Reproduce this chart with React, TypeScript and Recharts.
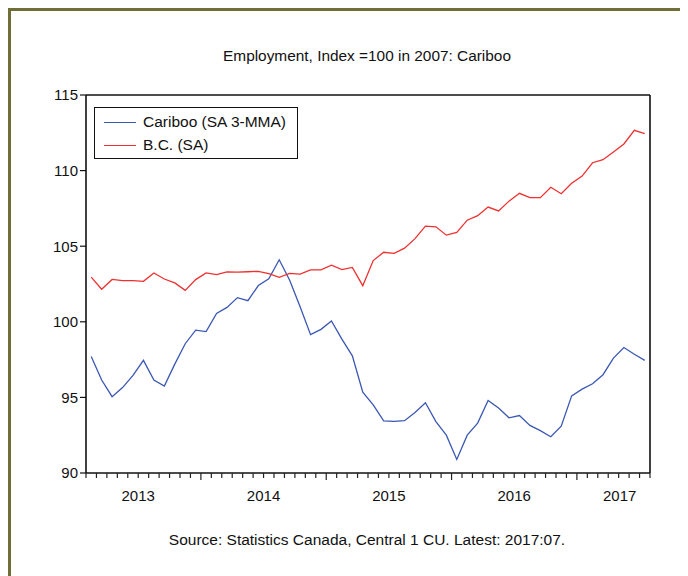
import React from 'react';
import { LineChart, Line, XAxis, YAxis, ReferenceLine } from 'recharts';

// monthly observations, 2013:02 .. 2017:07
const months = [
  '2013-02', '2013-03', '2013-04', '2013-05', '2013-06', '2013-07', '2013-08', '2013-09', '2013-10', '2013-11', '2013-12',
  '2014-01', '2014-02', '2014-03', '2014-04', '2014-05', '2014-06', '2014-07', '2014-08', '2014-09', '2014-10', '2014-11', '2014-12',
  '2015-01', '2015-02', '2015-03', '2015-04', '2015-05', '2015-06', '2015-07', '2015-08', '2015-09', '2015-10', '2015-11', '2015-12',
  '2016-01', '2016-02', '2016-03', '2016-04', '2016-05', '2016-06', '2016-07', '2016-08', '2016-09', '2016-10', '2016-11', '2016-12',
  '2017-01', '2017-02', '2017-03', '2017-04', '2017-05', '2017-06', '2017-07',
];

const cariboo = [
  97.7, 96.15, 95.05, 95.65, 96.45, 97.45, 96.15, 95.75, 97.2, 98.55, 99.45,
  99.35, 100.55, 100.95, 101.6, 101.4, 102.4, 102.85, 104.1, 102.75, 101.0, 99.15, 99.5,
  100.05, 98.85, 97.75, 95.35, 94.5, 93.45, 93.42, 93.46, 94.0, 94.65, 93.4, 92.5,
  90.9, 92.5, 93.3, 94.8, 94.3, 93.65, 93.8, 93.15, 92.8, 92.4, 93.1, 95.1,
  95.55, 95.9, 96.5, 97.6, 98.3, 97.85, 97.45,
];

const bc = [
  102.95, 102.15, 102.8, 102.72, 102.72, 102.68, 103.23, 102.83, 102.57, 102.08, 102.79,
  103.23, 103.12, 103.3, 103.29, 103.31, 103.34, 103.18, 102.94, 103.2, 103.15, 103.43, 103.43,
  103.74, 103.45, 103.6, 102.39, 104.05, 104.6, 104.53, 104.87, 105.5, 106.33, 106.28, 105.73,
  105.91, 106.72, 107.02, 107.59, 107.33, 107.98, 108.5, 108.21, 108.21, 108.9, 108.47, 109.16,
  109.64, 110.52, 110.72, 111.23, 111.76, 112.66, 112.44,
];

const yTicks = [90, 95, 100, 105, 110, 115];
const yearLabels = ['2013', '2014', '2015', '2016', '2017'];
const yearTickPos = [4.5, 16.5, 28.5, 40.5, 50.6];

const BLUE = '#3b58b3';
const RED = '#ee3030';
const FONT = '"Liberation Sans", Arial, sans-serif';

const data = months.map((m, i) => ({ i, month: m, cariboo: cariboo[i], bc: bc[i] }));

// tick marks sit on month boundaries, the longer ones at January
const monthTicks = months.map((_, k) => k - 0.5).concat(months.length - 0.5);
const majorTicks = new Set(months.map((m, k) => (m.endsWith('-01') ? k - 0.5 : null)).filter(v => v !== null));

const MonthTick = (props: any) => {
  const { x, y, payload } = props;
  const major = majorTicks.has(payload.value);
  return <line x1={x} x2={x} y1={y} y2={y + (major ? 7 : 5)} stroke="#222" strokeWidth={1.2} />;
};

const LegendBox = () => (
  <div style={{
    position: 'absolute', left: 86, top: 99, width: 204, height: 52, boxSizing: 'border-box',
    border: '1px solid #111', background: '#fff', fontFamily: FONT, fontSize: 15.5, color: '#111',
  }}>
    {[{ name: 'Cariboo (SA 3-MMA)', color: BLUE }, { name: 'B.C. (SA)', color: RED }].map((s, k) => (
      <div key={s.name} style={{ position: 'absolute', left: 9, top: 5 + k * 23, height: 18, display: 'flex', alignItems: 'center' }}>
        <span style={{ display: 'inline-block', width: 32, height: 0, borderTop: `1.5px solid ${s.color}`, marginRight: 7 }} />
        <span>{s.name}</span>
      </div>
    ))}
  </div>
);

export default function App() {
  return (
    <div style={{ position: 'relative', width: 680, height: 568, background: '#fff' }}>
      <div style={{
        position: 'absolute', left: 0, top: 0, width: 680, height: 568, boxSizing: 'border-box',
        borderTop: '3px solid #6e6e36', borderLeft: '3px solid #6e6e36',
      }} />
      <div style={{
        position: 'absolute', left: 159, top: 39, width: 400, textAlign: 'center',
        fontFamily: FONT, fontSize: 15.4, lineHeight: '18px', color: '#111',
      }}>
        Employment, Index =100 in 2007: Cariboo
      </div>
      <div style={{ position: 'absolute', left: 0, top: 0 }}>
        <LineChart width={680} height={568} data={data} margin={{ top: 87, right: 38, bottom: 63, left: 38 }}>
          <XAxis
            xAxisId="m" dataKey="i" type="number" domain={[-0.5, 53.5]} allowDataOverflow
            ticks={monthTicks} interval={0} tick={<MonthTick />} tickLine={false} tickSize={0} tickMargin={0}
            axisLine={{ stroke: '#111', strokeWidth: 1.6 }} height={10}
          />
          <XAxis
            xAxisId="yr" dataKey="i" type="number" domain={[-0.5, 53.5]} allowDataOverflow
            ticks={yearTickPos} interval={0} tickFormatter={(_v: number, k: number) => yearLabels[k]}
            tickLine={false} axisLine={false} tickSize={0} tickMargin={7} height={30}
            tick={{ fontSize: 15, fill: '#111', fontFamily: FONT }}
          />
          <YAxis
            type="number" domain={[90, 115]} ticks={yTicks} interval={0} width={40}
            tickSize={6} tickMargin={2} tickLine={{ stroke: '#111', strokeWidth: 1.2 }}
            axisLine={{ stroke: '#111', strokeWidth: 1.6 }}
            tick={{ fontSize: 15, fill: '#111', fontFamily: FONT }}
          />
          <ReferenceLine xAxisId="m" y={115} stroke="#111" strokeWidth={1.6} />
          <ReferenceLine xAxisId="m" x={53.5} stroke="#111" strokeWidth={1.6} />
          <Line xAxisId="m" dataKey="cariboo" stroke={BLUE} strokeWidth={1.3} dot={false} activeDot={false} isAnimationActive={false} />
          <Line xAxisId="m" dataKey="bc" stroke={RED} strokeWidth={1.3} dot={false} activeDot={false} isAnimationActive={false} />
        </LineChart>
      </div>
      <LegendBox />
      <div style={{
        position: 'absolute', left: 109, top: 523, width: 500, textAlign: 'center',
        fontFamily: FONT, fontSize: 15.5, lineHeight: '18px', color: '#111',
      }}>
        Source: Statistics Canada, Central 1 CU. Latest: 2017:07.
      </div>
    </div>
  );
}
